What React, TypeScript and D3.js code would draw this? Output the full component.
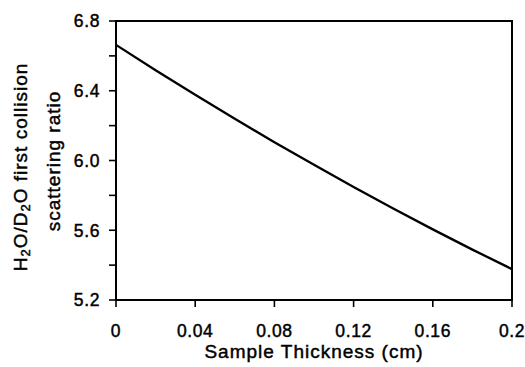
import React from "react";
import * as d3 from "d3";

const thickness = [0, 0.02, 0.04, 0.06, 0.08, 0.1, 0.12, 0.14, 0.16, 0.18, 0.2];
const ratio = [6.663, 6.518, 6.377, 6.239, 6.105, 5.975, 5.848, 5.725, 5.605, 5.489, 5.377];
const xTicks = [0, 0.04, 0.08, 0.12, 0.16, 0.2];
const xTickLabels = ["0", "0.04", "0.08", "0.12", "0.16", "0.2"];
const yTicks = [5.2, 5.4, 5.6, 5.8, 6.0, 6.2, 6.4, 6.6, 6.8];
const yLabelTicks = [5.2, 5.6, 6.0, 6.4, 6.8];

const W = 525;
const H = 367;
const M = { left: 116, right: 512, top: 21, bottom: 300 };
const FONT = "'Liberation Sans', Arial, Helvetica, sans-serif";

export default function App() {
  const x = d3.scaleLinear().domain([0, 0.2]).range([M.left, M.right]);
  const y = d3.scaleLinear().domain([5.2, 6.8]).range([M.bottom, M.top]);
  const line = d3
    .line<number>()
    .x((_, i) => x(thickness[i]))
    .y((d) => y(d))
    .curve(d3.curveMonotoneX);

  const textStyle = { stroke: "#000", strokeWidth: 0.45, fill: "#000" };

  return (
    <svg
      width={W}
      height={H}
      style={{ position: "absolute", left: 0, top: 0, background: "#fff" }}
      fontFamily={FONT}
    >
      <rect x={0} y={0} width={W} height={H} fill="#fff" />
      {/* frame */}
      <rect
        x={M.left}
        y={M.top}
        width={M.right - M.left}
        height={M.bottom - M.top}
        fill="none"
        stroke="#000"
        strokeWidth={2}
      />
      {/* y ticks */}
      {yTicks.map((t) => (
        <line key={"yt" + t} x1={M.left - 7} x2={M.left} y1={y(t)} y2={y(t)} stroke="#000" strokeWidth={1.6} />
      ))}
      {yLabelTicks.map((t) => (
        <text
          key={"yl" + t}
          x={100}
          y={y(t)}
          dy="0.36em"
          textAnchor="end"
          fontSize={17.5}
          letterSpacing={0.6}
          {...textStyle}
        >
          {t.toFixed(1)}
        </text>
      ))}
      {/* x ticks */}
      {xTicks.map((t, i) => (
        <g key={"xt" + t}>
          <line x1={x(t)} x2={x(t)} y1={M.bottom} y2={M.bottom + 7} stroke="#000" strokeWidth={1.6} />
          <text x={x(t)} y={337} textAnchor="middle" fontSize={17.5} letterSpacing={0.6} {...textStyle}>
            {xTickLabels[i]}
          </text>
        </g>
      ))}
      {/* data line */}
      <path d={line(ratio) || ""} fill="none" stroke="#000" strokeWidth={2.3} />
      {/* axis titles */}
      <text
        x={(M.left + M.right) / 2}
        y={358}
        textAnchor="middle"
        fontSize={19}
        letterSpacing={1}
        {...textStyle}
      >
        Sample Thickness (cm)
      </text>
      <g transform={`translate(27,167) rotate(-90)`}>
        <text x={0} y={0} textAnchor="middle" fontSize={19} letterSpacing={1} {...textStyle}>
          H<tspan fontSize={13} dy={3}>2</tspan>
          <tspan dy={-3}>O/D</tspan>
          <tspan fontSize={13} dy={3}>2</tspan>
          <tspan dy={-3}>O first collision</tspan>
        </text>
      </g>
      <g transform={`translate(60,161) rotate(-90)`}>
        <text x={0} y={0} textAnchor="middle" fontSize={19} letterSpacing={1} {...textStyle}>
          scattering ratio
        </text>
      </g>
    </svg>
  );
}
